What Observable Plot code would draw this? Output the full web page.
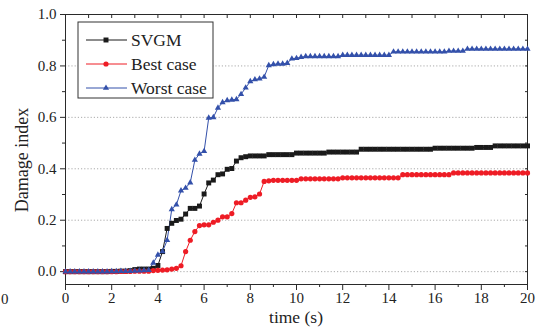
<!DOCTYPE html>
<html>
<head>
<meta charset="utf-8">
<script src="https://cdn.jsdelivr.net/npm/d3@7"></script>
<script src="https://cdn.jsdelivr.net/npm/@observablehq/plot@0.6"></script>
<style>
  html, body { margin: 0; padding: 0; background: #fff; }
  #chart svg { display: block; font-family: "Liberation Serif", "Times New Roman", serif !important; }
  #chart svg text { font-family: "Liberation Serif", "Times New Roman", serif !important; }
</style>
</head>
<body>
<div id="chart"></div>
<script>
// Sample times (s)
const time = [0,0.2,0.4,0.6,0.8,1,1.2,1.4,1.6,1.8,2,2.2,2.4,2.6,2.8,3,3.2,3.4,3.6,3.8,
  4,4.2,4.4,4.6,4.8,5,5.2,5.4,5.6,5.8,6,6.2,6.4,6.6,6.8,7,7.2,7.4,7.6,7.8,
  8,8.2,8.4,8.6,8.8,9,9.2,9.4,9.6,9.8,10,10.2,10.4,10.6,10.8,11,11.2,11.4,11.6,11.8,
  12,12.2,12.4,12.6,12.8,13,13.2,13.4,13.6,13.8,14,14.2,14.4,14.6,14.8,15,15.2,15.4,15.6,15.8,
  16,16.2,16.4,16.6,16.8,17,17.2,17.4,17.6,17.8,18,18.2,18.4,18.6,18.8,19,19.2,19.4,19.6,19.8,20];

const svgm = [0,0,0,0,0,0,0,0,0,0,0.001,0.001,0.002,0.002,0.004,0.008,0.010,0.010,0.010,0.013,
  0.024,0.078,0.168,0.188,0.199,0.204,0.224,0.246,0.246,0.255,
  0.302,0.345,0.356,0.377,0.380,0.398,0.401,0.430,0.443,0.447,
  0.450,0.450,0.450,0.450,0.455,0.455,0.455,0.455,0.455,0.455,
  0.461,0.461,0.461,0.461,0.461,0.461,0.461,0.465,0.465,0.465,
  0.465,0.465,0.465,0.465,0.476,0.476,0.476,0.476,0.476,0.476,
  0.476,0.476,0.476,0.476,0.476,0.476,0.476,0.476,0.476,0.476,
  0.480,0.480,0.480,0.480,0.480,0.480,0.480,0.480,0.480,0.483,
  0.483,0.483,0.483,0.489,0.489,0.489,0.489,0.489,0.489,0.489,0.489];

const best = [0,0,0,0,0,0,0,0,0,0,0,0,0.001,0.001,0.001,0.002,0.002,0.002,0.002,0.004,
  0.005,0.006,0.007,0.010,0.013,0.023,0.078,0.122,0.156,0.179,
  0.182,0.182,0.192,0.200,0.213,0.213,0.226,0.268,0.268,0.278,
  0.289,0.291,0.302,0.351,0.353,0.355,0.355,0.355,0.355,0.355,
  0.355,0.361,0.361,0.361,0.361,0.361,0.361,0.361,0.361,0.361,
  0.365,0.365,0.365,0.365,0.365,0.365,0.365,0.365,0.365,0.365,
  0.365,0.365,0.365,0.377,0.377,0.377,0.377,0.377,0.377,0.377,
  0.377,0.377,0.377,0.377,0.384,0.384,0.384,0.384,0.384,0.384,
  0.384,0.384,0.384,0.384,0.384,0.384,0.384,0.384,0.384,0.384,0.384];

const worst = [0,0,0,0,0,0,0,0,0,0,0.001,0.001,0.002,0.002,0.002,0.003,0.004,0.005,0.006,0.034,
  0.065,0.078,0.122,0.242,0.260,0.315,0.325,0.346,0.434,0.458,
  0.468,0.598,0.600,0.637,0.658,0.666,0.668,0.670,0.690,0.715,
  0.740,0.747,0.750,0.757,0.802,0.806,0.808,0.808,0.811,0.828,
  0.830,0.834,0.837,0.837,0.837,0.837,0.837,0.837,0.837,0.837,
  0.842,0.842,0.842,0.842,0.842,0.842,0.842,0.842,0.842,0.842,
  0.842,0.855,0.855,0.855,0.855,0.855,0.855,0.855,0.855,0.855,
  0.855,0.855,0.855,0.858,0.858,0.858,0.858,0.866,0.866,0.866,
  0.866,0.866,0.866,0.866,0.866,0.866,0.866,0.866,0.866,0.866,0.866];

const seriesNames = ["SVGM", "Best case", "Worst case"];
const seriesColors = ["#1a1a1a", "#ee1c25", "#3350aa"];
const seriesSymbols = ["square", "circle", "triangle"];
const seriesR = [2.8, 2.6, 2.3];

const xMajor = [0,2,4,6,8,10,12,14,16,18,20];
const xMinor = [1,3,5,7,9,11,13,15,17,19];
const xTop = [0,1,2,3,4,5,6,7,8,9,10,11,12,13,14,15,16,17,18,19,20];
const yMajor = [0,0.2,0.4,0.6,0.8,1.0];
const yMinor = [0.1,0.3,0.5,0.7,0.9];
const yGrid = [0,0.2,0.4,0.6,0.8];
const yAll = [0,0.1,0.2,0.3,0.4,0.5,0.6,0.7,0.8,0.9,1.0];

const allSeries = [svgm, best, worst];
const tables = allSeries.map(vals => time.map((t, i) => ({t, v: vals[i]})));

const font = "Liberation Serif, Times New Roman, serif";
const axisColor = "#2a2a2a";

const marks = [
  Plot.gridY(yGrid, {stroke: "#aaa", strokeOpacity: 1, strokeDasharray: "1.2,2"}),
  Plot.frame({stroke: axisColor, strokeWidth: 1}),
  Plot.axisX(xMajor, {tickSize: 6, tickPadding: 2, stroke: axisColor, fontSize: 15, label: null, fill: "#222"}),
  Plot.axisX(xMinor, {tickSize: 3, text: null, stroke: axisColor, label: null}),
  Plot.axisX(xTop, {anchor: "top", tickSize: -3, text: null, stroke: axisColor, label: null}),
  Plot.axisY(yMajor, {tickSize: 5, tickPadding: 4, tickFormat: d3.format(".1f"), stroke: axisColor, fontSize: 15, label: null, fill: "#222"}),
  Plot.axisY(yMinor, {tickSize: 3, text: null, stroke: axisColor, label: null}),
  Plot.axisY(yAll, {anchor: "right", tickSize: -3, text: null, stroke: axisColor, label: null})
];
tables.forEach((tbl, k) => {
  marks.push(Plot.line(tbl, {x: "t", y: "v", stroke: seriesColors[k], strokeWidth: 1}));
});
tables.forEach((tbl, k) => {
  marks.push(Plot.dot(tbl, {x: "t", y: "v", fill: seriesColors[k], stroke: "none", symbol: seriesSymbols[k], r: seriesR[k]}));
});

const chart = Plot.plot({
  width: 538,
  height: 333,
  marginLeft: 65,
  marginRight: 11,
  marginTop: 14,
  marginBottom: 49,
  x: {domain: [0, 20]},
  y: {domain: [-0.05, 1.0]},
  style: {fontFamily: font, background: "#fff", color: "#222"},
  marks
});

const svg = d3.select(chart);
svg.attr("font-family", font);

// Axis titles
svg.append("text")
  .attr("x", 296).attr("y", 323)
  .attr("text-anchor", "middle")
  .attr("font-size", 17.5).attr("fill", "#222")
  .text("time (s)");
svg.append("text")
  .attr("transform", "translate(28,160) rotate(-90)")
  .attr("text-anchor", "middle")
  .attr("font-size", 18).attr("fill", "#222")
  .text("Damage index");
// label of a neighbouring panel at the far left edge
svg.append("text")
  .attr("x", 1).attr("y", 304)
  .attr("text-anchor", "start")
  .attr("font-size", 15).attr("fill", "#222")
  .text("0");

// Legend
const lg = svg.append("g");
lg.append("rect").attr("x", 78).attr("y", 22).attr("width", 135).attr("height", 76)
  .attr("fill", "#fff").attr("stroke", "#333").attr("stroke-width", 1);
seriesNames.forEach((name, k) => {
  const cy = 40 + k * 24;
  lg.append("line").attr("x1", 86).attr("x2", 127).attr("y1", cy).attr("y2", cy)
    .attr("stroke", seriesColors[k]).attr("stroke-width", 1);
  const sym = {square: d3.symbolSquare, circle: d3.symbolCircle, triangle: d3.symbolTriangle}[seriesSymbols[k]];
  lg.append("path").attr("d", d3.symbol(sym, Math.PI * seriesR[k] * seriesR[k])())
    .attr("transform", `translate(106,${cy})`).attr("fill", seriesColors[k]);
  lg.append("text").attr("x", 131).attr("y", cy).attr("dy", "0.35em")
    .attr("text-anchor", "start")
    .attr("font-size", 17.5).attr("fill", "#222").text(name);
});

document.getElementById("chart").appendChild(chart);
</script>
</body>
</html>
